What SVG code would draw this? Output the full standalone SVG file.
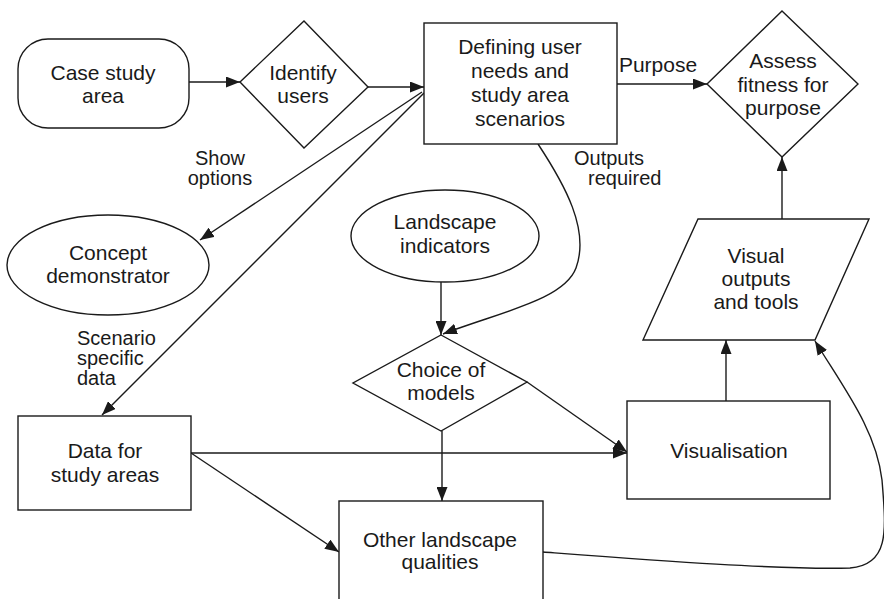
<svg xmlns="http://www.w3.org/2000/svg" width="884" height="599" viewBox="0 0 884 599">
<style>
.n{fill:#fff;stroke:#1a1a1a;stroke-width:1.4}
.t{font-family:"Liberation Sans",Arial,sans-serif;font-size:21px;fill:#1a1a1a;text-anchor:middle}
.l{font-family:"Liberation Sans",Arial,sans-serif;font-size:20px;fill:#1a1a1a}
.lc{font-family:"Liberation Sans",Arial,sans-serif;font-size:20px;fill:#1a1a1a;text-anchor:middle}
.c{fill:none;stroke:#1a1a1a;stroke-width:1.4}
</style>
<defs>
<marker id="a" viewBox="0 0 14 11" refX="14" refY="5.5" markerWidth="14" markerHeight="11" markerUnits="userSpaceOnUse" orient="auto">
<path d="M0,0 L14,5.5 L0,11 z" fill="#1a1a1a"/>
</marker>
</defs>
<rect width="884" height="599" fill="#fff"/>
<g id="connectors">
<line class="c" x1="189" y1="82" x2="240" y2="82" marker-end="url(#a)"/>
<line class="c" x1="368" y1="87" x2="424" y2="87" marker-end="url(#a)"/>
<line class="c" x1="617" y1="84" x2="707" y2="84" marker-end="url(#a)"/>
<line class="c" x1="422" y1="92" x2="200" y2="240" marker-end="url(#a)"/>
<line class="c" x1="424" y1="93" x2="102" y2="415" marker-end="url(#a)"/>
<path class="c" d="M538 144 C565 185 590 230 576 268 C564 300 500 312 443 334" marker-end="url(#a)"/>
<line class="c" x1="441" y1="282" x2="441" y2="335" marker-end="url(#a)"/>
<line class="c" x1="527" y1="382" x2="627" y2="452" marker-end="url(#a)"/>
<line class="c" x1="442" y1="431" x2="442" y2="501" marker-end="url(#a)"/>
<line class="c" x1="191" y1="453" x2="627" y2="453" marker-end="url(#a)"/>
<line class="c" x1="191" y1="453" x2="339" y2="552" marker-end="url(#a)"/>
<line class="c" x1="726" y1="401" x2="726" y2="340" marker-end="url(#a)"/>
<line class="c" x1="782" y1="219" x2="782" y2="157" stroke-width="2.6" marker-end="url(#a)"/>
<path class="c" d="M543 552 C650 560 780 570 850 568 C890 565 886 530 882 480 C876 430 845 390 815 341" marker-end="url(#a)"/>
<text class="t" x="658" y="72">Purpose</text>
<text class="lc" x="220" y="165">Show</text>
<text class="lc" x="220" y="185">options</text>
<text class="l" x="574" y="165">Outputs</text>
<text class="l" x="588" y="185">required</text>
<text class="l" x="77" y="345">Scenario</text>
<text class="l" x="77" y="365">specific</text>
<text class="l" x="77" y="385">data</text>
</g>
<g id="case-study-area">
<rect class="n" x="18" y="39" width="171" height="89" rx="30"/>
<text class="t" x="103" y="80">Case study</text>
<text class="t" x="103" y="103">area</text>
</g>
<g id="identify-users">
<polygon class="n" points="304,21 368,87 304,148 240,82"/>
<text class="t" x="303" y="80">Identify</text>
<text class="t" x="303" y="103">users</text>
</g>
<g id="defining">
<rect class="n" x="424" y="23" width="193" height="121"/>
<text class="t" x="520" y="54">Defining user</text>
<text class="t" x="520" y="78">needs and</text>
<text class="t" x="520" y="102">study area</text>
<text class="t" x="520" y="126">scenarios</text>
</g>
<g id="assess">
<polygon class="n" points="782,11 858,84 782,157 707,84"/>
<text class="t" x="783" y="68">Assess</text>
<text class="t" x="783" y="92">fitness for</text>
<text class="t" x="783" y="115">purpose</text>
</g>
<g id="concept-demonstrator">
<ellipse class="n" cx="108" cy="265" rx="101" ry="50"/>
<text class="t" x="108" y="260">Concept</text>
<text class="t" x="108" y="283">demonstrator</text>
</g>
<g id="landscape-indicators">
<ellipse class="n" cx="445" cy="236" rx="94" ry="46"/>
<text class="t" x="445" y="229">Landscape</text>
<text class="t" x="445" y="253">indicators</text>
</g>
<g id="visual-outputs">
<polygon class="n" points="698,219 869,219 815,340 643,340"/>
<text class="t" x="756" y="263">Visual</text>
<text class="t" x="756" y="286">outputs</text>
<text class="t" x="756" y="309">and tools</text>
</g>
<g id="choice-of-models">
<polygon class="n" points="441,335 527,382 441,431 353,383"/>
<text class="t" x="441" y="377">Choice of</text>
<text class="t" x="441" y="400">models</text>
</g>
<g id="data-for-study-areas">
<rect class="n" x="18" y="416" width="173" height="94"/>
<text class="t" x="105" y="458">Data for</text>
<text class="t" x="105" y="482">study areas</text>
</g>
<g id="visualisation">
<rect class="n" x="627" y="401" width="203" height="98"/>
<text class="t" x="729" y="458">Visualisation</text>
</g>
<g id="other-landscape-qualities">
<rect class="n" x="339" y="501" width="204" height="110"/>
<text class="t" x="440" y="547">Other landscape</text>
<text class="t" x="440" y="569">qualities</text>
</g>
</svg>
